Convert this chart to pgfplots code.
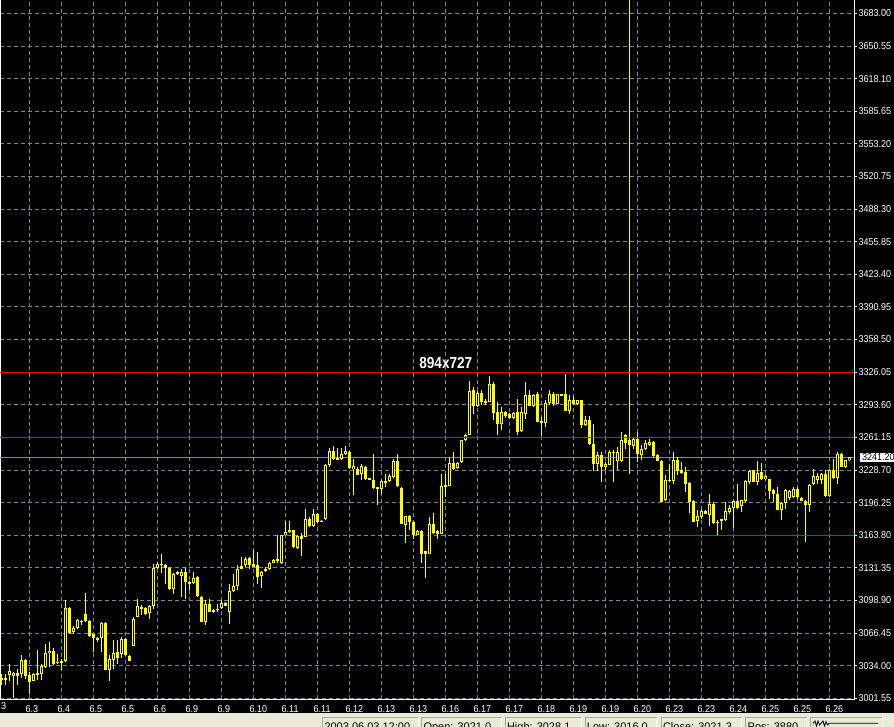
\documentclass[border=0pt]{standalone}
\usepackage{fontspec}
\setmainfont{Liberation Sans}
\newfontfamily\axfam[FakeStretch=0.9]{Liberation Sans}
\newfontfamily\wmfam[FakeStretch=0.85]{Liberation Sans}
\usepackage{pgfplots}
\pgfplotsset{compat=1.18}
\usepackage{pgfplotstable}
\definecolor{gridc}{HTML}{778899}
\definecolor{statusbg}{HTML}{ECE9D8}
\definecolor{boxline}{HTML}{ACA899}
\definecolor{cy}{HTML}{FFFF00}
\newcommand\axf{\axfam\fontsize{10pt}{12pt}\selectfont}
\newcommand\stf{\fontsize{11pt}{13pt}\selectfont}

\pgfplotstableread{
i o h l c
1 3022.1 3026.1 3014.5 3019.4
2 3020.1 3026.1 3014.5 3022.1
3 3024.4 3035.4 3018.8 3028.4
4 3023.7 3027.7 3002.2 3027.1
5 3026.7 3031.0 3014.5 3024.1
6 3026.1 3044.3 3022.1 3039.3
7 3039.3 3041.0 3021.1 3023.4
8 3024.4 3027.7 3006.2 3017.8
9 3018.8 3026.7 3018.3 3026.1
10 3025.4 3049.3 3019.4 3026.4
11 3026.1 3035.4 3019.4 3034.0
12 3032.7 3055.9 3032.0 3047.0
13 3046.6 3057.3 3032.7 3049.0
14 3048.6 3052.0 3034.9 3035.4
15 3037.8 3046.0 3036.0 3036.9
16 3038.3 3041.0 3029.4 3037.0
17 3038.7 3099.0 3038.0 3091.8
18 3091.1 3092.4 3065.9 3066.5
19 3067.5 3073.2 3065.9 3071.8
20 3071.5 3080.8 3070.9 3079.1
21 3077.5 3079.8 3074.2 3078.5
22 3085.8 3106.3 3077.5 3078.5
23 3078.1 3079.1 3062.6 3063.9
24 3065.2 3065.9 3047.6 3061.9
25 3061.2 3062.6 3057.6 3060.6
26 3061.2 3077.5 3047.6 3076.5
27 3076.5 3077.5 3029.4 3030.1
28 3029.4 3044.3 3018.8 3040.3
29 3040.0 3059.2 3031.0 3047.0
30 3048.0 3059.9 3036.0 3042.0
31 3046.0 3062.6 3042.0 3060.6
32 3060.9 3061.9 3043.8 3044.3
33 3044.0 3044.3 3038.2 3038.7
34 3054.0 3082.5 3053.3 3080.8
35 3082.5 3100.7 3082.0 3093.1
36 3091.4 3094.1 3084.1 3092.4
37 3091.4 3092.4 3084.1 3085.8
38 3086.4 3094.1 3080.8 3093.4
39 3093.1 3135.5 3090.8 3131.6
40 3131.2 3137.2 3130.6 3135.5
41 3135.5 3145.5 3126.3 3134.8
42 3134.5 3135.5 3115.0 3131.2
43 3131.2 3132.2 3109.8 3110.3
44 3110.0 3126.3 3105.0 3125.6
45 3126.9 3128.2 3123.9 3125.6
46 3123.6 3130.6 3102.4 3126.9
47 3126.9 3132.2 3100.7 3117.3
48 3115.6 3118.3 3109.7 3117.3
49 3116.3 3127.2 3115.6 3121.6
50 3122.3 3122.9 3102.4 3103.0
51 3102.4 3103.0 3077.0 3077.5
52 3077.5 3099.7 3074.2 3095.1
53 3095.7 3100.7 3087.0 3087.4
54 3089.1 3090.8 3086.4 3087.4
55 3089.1 3095.7 3087.4 3090.8
56 3091.4 3099.0 3090.8 3096.7
57 3096.7 3097.4 3093.4 3093.7
58 3087.4 3115.6 3075.8 3108.3
59 3108.3 3125.6 3107.4 3113.3
60 3113.3 3133.9 3109.0 3130.6
61 3133.5 3142.2 3130.2 3130.6
62 3133.9 3142.2 3132.2 3140.5
63 3140.9 3142.2 3130.6 3134.2
64 3134.9 3148.8 3131.8 3132.2
65 3134.2 3147.1 3115.6 3122.3
66 3123.3 3128.2 3111.6 3127.2
67 3127.9 3132.2 3127.2 3129.9
68 3129.9 3137.2 3129.6 3136.5
69 3136.5 3139.8 3136.2 3139.5
70 3139.8 3164.4 3136.2 3138.8
71 3136.2 3164.4 3135.5 3163.7
72 3163.7 3177.7 3163.3 3167.0
73 3168.7 3177.7 3166.0 3167.0
74 3168.7 3169.4 3151.5 3152.1
75 3151.5 3164.4 3150.5 3163.1
76 3163.1 3166.0 3142.8 3159.7
77 3162.0 3190.3 3161.6 3180.3
78 3180.3 3182.0 3172.0 3173.0
79 3173.0 3190.3 3172.0 3185.3
80 3185.3 3186.0 3176.0 3177.0
81 3177.3 3178.6 3177.0 3178.0
82 3179.6 3234.3 3179.3 3234.0
83 3234.0 3251.0 3231.7 3247.3
84 3247.3 3252.3 3239.0 3240.0
85 3241.0 3251.0 3238.8 3239.3
86 3240.0 3251.0 3239.0 3245.0
87 3245.0 3252.3 3243.3 3247.3
88 3247.0 3247.6 3229.4 3230.7
89 3230.0 3240.0 3203.5 3232.4
90 3229.4 3231.7 3223.4 3224.1
91 3224.4 3235.0 3218.4 3232.4
92 3232.0 3232.7 3219.1 3220.1
93 3220.4 3220.8 3219.0 3219.4
94 3219.1 3245.0 3210.1 3210.8
95 3210.5 3211.8 3193.6 3211.5
96 3210.1 3218.4 3205.2 3217.4
97 3216.8 3224.4 3211.8 3217.4
98 3217.4 3224.4 3216.8 3222.4
99 3221.8 3240.0 3221.1 3237.7
100 3237.7 3245.0 3211.8 3212.8
101 3211.2 3211.8 3174.7 3175.3
102 3174.3 3183.0 3156.1 3182.6
103 3183.3 3183.6 3168.7 3177.0
104 3177.0 3178.0 3160.4 3163.7
105 3164.4 3168.7 3163.7 3168.0
106 3168.0 3168.7 3136.2 3145.5
107 3147.8 3148.1 3121.3 3145.5
108 3145.5 3182.0 3145.1 3175.3
109 3175.3 3186.0 3165.4 3166.4
110 3168.0 3169.4 3159.7 3165.4
111 3165.4 3225.1 3164.7 3212.8
112 3212.5 3224.4 3201.9 3213.5
113 3213.1 3241.7 3212.5 3236.0
114 3236.0 3246.6 3228.4 3230.0
115 3230.7 3236.7 3230.0 3236.0
116 3236.4 3258.9 3235.7 3258.3
117 3258.3 3264.2 3257.6 3263.6
118 3263.9 3317.3 3263.2 3307.3
119 3308.0 3311.3 3284.1 3292.1
120 3292.1 3307.3 3291.4 3305.7
121 3305.7 3308.7 3293.1 3296.1
122 3297.1 3299.7 3293.1 3296.4
123 3296.4 3322.0 3296.1 3314.0
124 3314.6 3316.3 3278.2 3285.8
125 3286.1 3296.4 3263.2 3274.8
126 3274.8 3291.4 3268.9 3286.1
127 3286.1 3287.4 3280.8 3282.5
128 3284.5 3285.4 3279.8 3280.8
129 3280.8 3286.1 3279.8 3285.4
130 3286.1 3299.7 3263.2 3266.5
131 3267.5 3291.4 3266.5 3286.1
132 3284.8 3316.3 3279.8 3303.0
133 3303.0 3308.0 3291.9 3292.4
134 3292.4 3304.0 3291.4 3303.7
135 3304.0 3306.3 3276.1 3276.5
136 3277.2 3281.5 3262.9 3276.2
137 3275.8 3298.0 3271.5 3295.7
138 3295.7 3308.7 3293.1 3304.7
139 3304.7 3306.3 3292.1 3294.7
140 3294.7 3304.7 3294.1 3304.0
141 3304.0 3304.7 3302.7 3303.0
142 3304.0 3324.6 3287.0 3287.4
143 3287.4 3303.0 3284.8 3298.0
144 3298.0 3302.0 3293.1 3294.7
145 3294.7 3298.7 3293.1 3298.0
146 3298.0 3298.7 3270.8 3273.8
147 3273.8 3282.1 3272.2 3278.2
148 3278.2 3282.1 3254.0 3254.3
149 3254.9 3274.8 3227.7 3234.4
150 3234.4 3246.7 3228.0 3243.3
151 3243.3 3246.7 3216.8 3231.7
152 3231.7 3236.7 3228.4 3235.0
153 3234.0 3248.3 3233.4 3246.7
154 3246.7 3248.3 3216.8 3245.9
155 3237.7 3251.6 3228.4 3246.7
156 3237.7 3266.5 3236.7 3258.9
157 3263.2 3264.2 3250.0 3255.6
158 3258.3 3700.0 3225.1 3253.3
159 3252.3 3261.6 3250.0 3259.9
160 3259.9 3266.5 3236.7 3244.3
161 3243.3 3253.3 3238.4 3250.0
162 3249.3 3258.3 3249.0 3255.6
163 3253.3 3259.9 3253.0 3256.9
164 3256.9 3257.6 3241.7 3242.3
165 3243.7 3245.0 3237.4 3237.7
166 3238.0 3238.4 3196.5 3196.9
167 3198.6 3223.4 3198.2 3218.5
168 3219.1 3235.0 3216.8 3217.5
169 3217.5 3246.7 3215.1 3238.4
170 3239.0 3241.7 3223.4 3227.7
171 3228.4 3236.7 3225.1 3225.8
172 3226.8 3231.7 3206.8 3215.1
173 3215.8 3216.8 3185.9 3196.9
174 3197.6 3198.6 3176.7 3177.0
175 3178.0 3188.6 3172.0 3182.6
176 3181.9 3190.3 3180.3 3187.9
177 3187.9 3189.3 3184.6 3185.3
178 3183.6 3204.5 3172.7 3194.6
179 3195.2 3196.9 3175.3 3176.0
180 3176.0 3178.6 3163.7 3177.0
181 3177.7 3180.3 3168.7 3179.6
182 3178.7 3196.9 3178.3 3187.6
183 3186.9 3193.6 3185.3 3191.3
184 3191.3 3198.6 3171.4 3197.6
185 3197.6 3214.5 3190.3 3191.3
186 3192.6 3199.2 3186.9 3198.6
187 3197.9 3218.5 3196.9 3217.5
188 3216.8 3228.4 3214.5 3227.4
189 3228.4 3229.1 3216.5 3216.8
190 3216.8 3237.7 3213.5 3225.8
191 3226.8 3235.7 3218.5 3220.1
192 3219.8 3223.4 3219.1 3222.4
193 3219.5 3220.1 3200.2 3207.8
194 3208.5 3210.2 3196.9 3204.5
195 3205.2 3211.8 3188.6 3189.3
196 3189.3 3196.9 3179.3 3196.2
197 3195.9 3210.2 3190.3 3208.5
198 3201.2 3208.5 3199.2 3207.5
199 3201.9 3211.8 3201.2 3210.2
200 3210.2 3211.8 3200.2 3201.9
201 3201.2 3201.9 3197.9 3198.2
202 3198.3 3198.9 3157.1 3194.2
203 3194.2 3214.8 3186.9 3214.2
204 3214.5 3230.1 3213.5 3222.4
205 3218.5 3225.8 3215.1 3222.4
206 3218.5 3225.8 3215.1 3224.4
207 3224.4 3228.4 3201.9 3202.5
208 3202.5 3230.1 3201.9 3229.1
209 3229.1 3240.0 3220.1 3221.1
210 3221.1 3246.7 3215.1 3245.0
211 3245.0 3245.7 3231.4 3231.7
212 3231.7 3239.0 3231.1 3238.4
213 3238.4 3241.7 3237.7 3241.2
}\candles

\begin{document}
\begin{tikzpicture}
\fill[black] (0pt,13.5pt) rectangle (894pt,727pt);
\fill[statusbg] (0pt,0pt) rectangle (894pt,13.5pt);
\begin{axis}[
  at={(0pt,27.5pt)}, anchor=south west,
  width=854pt, height=699.5pt, scale only axis,
  xmin=0.625, xmax=214.125, ymin=3000.36, ymax=3696.36,
  axis line style={white, line width=1pt},
  xtick={8,16,...,208},
  xticklabels={6.3,6.4,6.5,6.5,6.6,6.9,6.9,6.10,6.11,6.11,6.12,6.13,6.13,6.16,6.17,6.17,6.18,6.19,6.19,6.20,6.23,6.23,6.24,6.25,6.25,6.26},
  ytick={3001.55,3034.00,3066.45,3098.90,3131.35,3163.80,3196.25,3228.70,3261.15,3293.60,3326.05,3358.50,3390.95,3423.40,3455.85,3488.30,3520.75,3553.20,3585.65,3618.10,3650.55,3683.00},
  yticklabels={3001.55,3034.00,3066.45,3098.90,3131.35,3163.80,3196.25,3228.70,3261.15,3293.60,3326.05,3358.50,3390.95,3423.40,3455.85,3488.30,3520.75,3553.20,3585.65,3618.10,3650.55,3683.00},
  ytick pos=right, yticklabel pos=right,
  tick align=outside, major tick length=3pt,
  ytick style={white, line width=1pt},
  xtick style={draw=none},
  grid=major,
  major grid style={gridc, line width=1pt, dash pattern=on 4pt off 3pt},
  xticklabel style={font=\axf, text=white, anchor=north west, inner sep=0pt, xshift=-4pt, yshift=-2.5pt},
  yticklabel style={font=\axf, text=white, anchor=west, inner sep=0pt, xshift=1.5pt},
]
% bid line
\addplot[gridc, line width=1pt, forget plot] coordinates {(0.625,3241.2) (214.125,3241.2)};
% wicks
\addplot[draw=none, mark=none, forget plot,
  error bars/.cd, y dir=both, y explicit, error mark=none,
  error bar style={draw=cy, line width=1pt}]
  table[x=i, y expr={(\thisrow{h}+\thisrow{l})/2}, y error expr={(\thisrow{h}-\thisrow{l})/2}] {\candles};
% bodies
\addplot[draw=none, mark=none, forget plot,
  error bars/.cd, y dir=both, y explicit, error mark=none,
  error bar style={draw=cy, line width=3pt}]
  table[x=i, y expr={(\thisrow{o}+\thisrow{c})/2}, y error expr={max(abs(\thisrow{o}-\thisrow{c})/2,0.5)}] {\candles};
% hollow interiors of rising candles
\addplot[draw=none, mark=none, forget plot,
  error bars/.cd, y dir=both, y explicit, error mark=none,
  error bar style={draw=black, line width=1pt}]
  table[x=i, y expr={(\thisrow{o}+\thisrow{c})/2}, y error expr={\thisrow{c}>\thisrow{o} ? max(0,(\thisrow{c}-\thisrow{o})/2-1) : 0}] {\candles};
% horizontal lines
\addplot[red, line width=1pt, forget plot] coordinates {(0.625,3326.05) (214.125,3326.05)};
\addplot[red, line width=1pt, forget plot] coordinates {(0.625,3261.15) (214.125,3261.15)};
\addplot[red, line width=1pt, forget plot] coordinates {(167.6,3163.80) (214.125,3163.80)};
\end{axis}
% clipped first date label
\node[anchor=north west, inner sep=0pt, text=white, font=\axf] at (-6.5pt,25pt) {6.3};
% current price label
\node[anchor=west, fill=white, text=black, font=\axf, inner xsep=2.5pt, inner ysep=1pt] at (859.5pt,269.8pt) {3241.20};
% chart text
\node[text=white, font=\wmfam\bfseries\fontsize{16pt}{18pt}\selectfont, inner sep=0pt] at (445.8pt,364pt) {894x727};
% status bar
\foreach \a/\b in {322.7/418, 421.7/501.7, 505/581, 585/656.7, 661/741.7, 745.7/806.7, 810.7/882}{
  \draw[boxline, line width=1pt] (\a pt,-3pt) -- (\a pt,9.3pt) -- (\b pt,9.3pt);
  \draw[white, line width=1pt] (\b pt,9.3pt) -- (\b pt,-3pt);
}
\foreach \x/\t in {324.3/{2003.06.03 12:00}, 423.3/{Open: 3021.0}, 506.8/{High: 3028.1}, 586.7/{Low: 3016.0}, 662.8/{Close: 3021.3}, 747.5/{Pos: 3880}}{
  \node[anchor=north west, inner sep=0pt, text=black, font=\stf] at (\x pt,4.4pt) {\t};
}
\draw[black, line width=0.8pt] (813pt,3.7pt) -- (815pt,6pt) -- (816.5pt,1pt) -- (818pt,6pt) -- (819.5pt,2pt) -- (821pt,3.7pt) -- (823pt,6pt) -- (824.5pt,1pt) -- (826pt,5.5pt) -- (827.5pt,2pt) -- (829pt,3.7pt) -- (878pt,3.7pt);
\pgfresetboundingbox
\path[use as bounding box] (0pt,0pt) rectangle (894pt,727pt);
\end{tikzpicture}
\end{document}
